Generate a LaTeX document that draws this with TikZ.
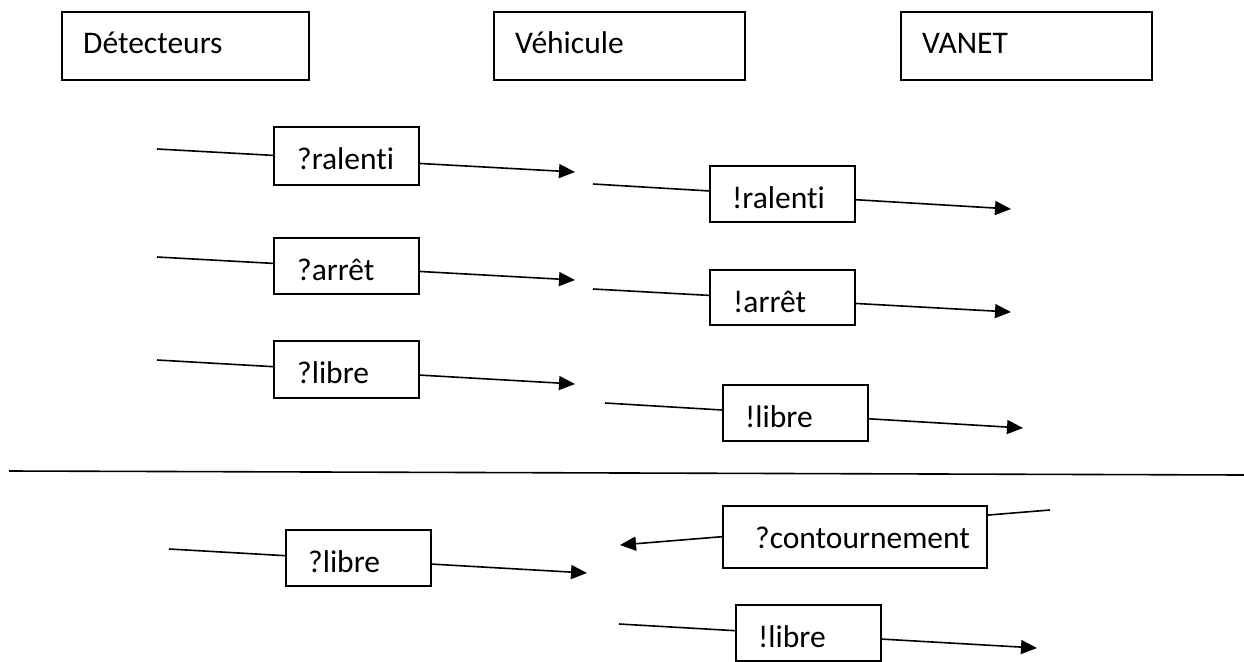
\documentclass[tikz,border=0pt]{standalone}
\usepackage{fontspec}
\setmainfont{Carlito}[Ligatures={NoCommon}]
\usetikzlibrary{arrows.meta,calc}
\tikzset{
  boxnode/.style={draw=black, line width=1.6pt, fill=white, rectangle, inner sep=0pt, anchor=north west},
  lbl/.style={inner sep=0pt, anchor=base west, font=\fontsize{31.5}{37}\selectfont},
  conn/.style={line width=1.6pt},
  arr/.style={line width=1.6pt, -{Triangle[length=16pt,width=14pt]}},
}
\newcommand{\mybox}[7]{% name, x1, y1, x2, y2, pad, text
  \node[boxnode, minimum width={(#4-#2)*1pt}, minimum height={(#5-#3)*1pt}] (#1) at (#2,#3) {};
  \node[lbl] (#1t) at ($(#1.north west)+(#6,43)$) {#7};
}
\begin{document}
\begin{tikzpicture}[x=1pt,y=-1pt]
\useasboundingbox (0,0) rectangle (1244,661);
% free ends of connectors
\coordinate (a1) at (157,149); \coordinate (b1) at (575,172);
\coordinate (c1) at (593,184); \coordinate (d1) at (1011,209);
\coordinate (a2) at (157,257); \coordinate (b2) at (575,280);
\coordinate (c2) at (593,289); \coordinate (d2) at (1011,312);
\coordinate (a3) at (157,360); \coordinate (b3) at (575,384);
\coordinate (c3) at (605,403); \coordinate (d3) at (1023,428);
\coordinate (hl) at (9,471); \coordinate (hr) at (1244,475);
\coordinate (a4) at (169,549); \coordinate (b4) at (587,573);
\coordinate (c4) at (1050,510); \coordinate (d4) at (620,545);
\coordinate (c5) at (619,624); \coordinate (d5) at (1037,648);
% connectors
\draw[arr] (a1) -- (b1);
\draw[arr] (c1) -- (d1);
\draw[arr] (a2) -- (b2);
\draw[arr] (c2) -- (d2);
\draw[arr] (a3) -- (b3);
\draw[arr] (c3) -- (d3);
\draw[conn] (hl) -- (hr);
\draw[arr] (a4) -- (b4);
\draw[arr] (c4) -- (d4);
\draw[arr] (c5) -- (d5);
% header boxes
\mybox{det}{61}{11}{308}{79}{22}{Détecteurs}
\mybox{veh}{493}{11}{744}{79}{22}{Véhicule}
\mybox{van}{900}{11}{1151}{79}{22}{VANET}
% message boxes
\mybox{qral}{273}{126}{418}{184}{24}{?ralenti}
\mybox{eral}{709}{165}{854}{221}{23}{!ralenti}
\mybox{qarr}{273}{237}{418}{293}{24}{?arrêt}
\mybox{earr}{709}{269}{854}{324}{24}{!arrêt}
\mybox{qlib}{273}{340}{418}{397}{24}{?libre}
\mybox{elib}{722}{384}{867}{440}{23}{!libre}
\mybox{qlibb}{285}{529}{430}{585}{23}{?libre}
\mybox{qcont}{722}{505}{986}{567}{33}{?contournement}
\mybox{elibb}{735}{604}{880}{660}{23}{!libre}
\end{tikzpicture}
\end{document}
